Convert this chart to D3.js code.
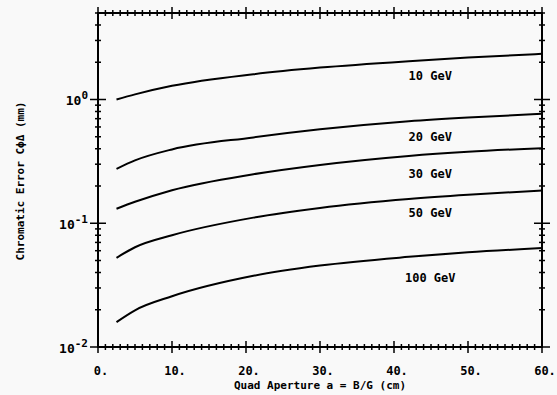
<!DOCTYPE html>
<html><head><meta charset="utf-8">
<script src="https://cdn.jsdelivr.net/npm/d3@7"></script>
<style>
html,body{margin:0;padding:0;background:#f9f9f9;}
svg{display:block;}
text{font-family:"DejaVu Sans Mono",monospace;font-weight:bold;fill:#000;}
</style></head>
<body>
<script>
const aperture = [2.5, 5, 10, 21, 30, 42, 50, 60];
const series = [
  {name: "10 GeV",  values: [1.0, 1.10, 1.29, 1.60, 1.81, 2.04, 2.18, 2.34]},
  {name: "20 GeV",  values: [0.275, 0.322, 0.395, 0.494, 0.574, 0.668, 0.716, 0.766]},
  {name: "30 GeV",  values: [0.131, 0.149, 0.185, 0.249, 0.296, 0.350, 0.378, 0.404]},
  {name: "50 GeV",  values: [0.0526, 0.064, 0.080, 0.111, 0.133, 0.157, 0.170, 0.184]},
  {name: "100 GeV", values: [0.0159, 0.0198, 0.0257, 0.0376, 0.0455, 0.0535, 0.0582, 0.063]}
];
const labelPos = [ [44.9, 1.45], [44.9, 0.458], [44.9, 0.230], [44.9, 0.113], [44.9, 0.0338] ];
const xTicks = [0, 10, 20, 30, 40, 50, 60];
const xTickLabels = ["0.", "10.", "20.", "30.", "40.", "50.", "60."];
const yDecades = [0.01, 0.1, 1];
const yDecadeExp = ["-2", "-1", "0"];
const xTitle = "Quad Aperture a = B/G (cm)";
const yTitle = "Chromatic Error C\u03d5\u0394 (mm)";

const W = 557, H = 395;
const m = {l: 98, r: 15, t: 13, b: 48};
const svg = d3.select("body").append("svg").attr("width", W).attr("height", H);
const x = d3.scaleLinear().domain([0, 60]).range([m.l, W - m.r]);
const y = d3.scaleLog().domain([0.01, 5]).range([H - m.b, m.t]);

const xMinor = d3.range(0, 61, 1).filter(v => v % 10 !== 0);
const yMinor = [];
[0.01, 0.1, 1].forEach(d => { for (let k = 2; k <= 9; k++) { const v = d * k; if (v <= 5.0001) yMinor.push(v); } });

const g = svg.append("g").attr("stroke", "#000").attr("fill", "none");
g.append("rect").attr("x", x(0)).attr("y", y(5)).attr("width", x(60) - x(0)).attr("height", y(0.01) - y(5)).attr("stroke-width", 2);

function xTick(v, len, yy) {
  g.append("line").attr("x1", x(v)).attr("x2", x(v)).attr("y1", yy - len).attr("y2", yy + len).attr("stroke-width", 1.5);
}
function yTick(v, len, xx) {
  g.append("line").attr("y1", y(v)).attr("y2", y(v)).attr("x1", xx - len).attr("x2", xx + len).attr("stroke-width", 1.5);
}
[y(0.01), y(5)].forEach(yy => {
  xMinor.forEach(v => xTick(v, 3, yy));
  xTicks.forEach(v => xTick(v, 6, yy));
});
[x(0), x(60)].forEach(xx => {
  yMinor.forEach(v => yTick(v, 3, xx));
  yDecades.forEach(v => yTick(v, 8, xx));
});

svg.append("g").selectAll("text").data(xTicks).join("text")
  .attr("x", d => x(d) + 3).attr("y", y(0.01) + 28)
  .attr("text-anchor", "middle").attr("font-size", 12)
  .text((d, i) => xTickLabels[i]);

const yl = svg.append("g").selectAll("text").data(yDecades).join("text")
  .attr("x", m.l - 10).attr("y", d => y(d) + 6)
  .attr("text-anchor", "end").attr("font-size", 13);
yl.append("tspan").text("10");
yl.append("tspan").attr("dy", -6).attr("font-size", 11).text((d, i) => yDecadeExp[i]);

svg.append("text").attr("x", (x(0) + x(60)) / 2).attr("y", H - 6)
  .attr("text-anchor", "middle").attr("font-size", 11).text(xTitle);
svg.append("text").attr("transform", `translate(24,181) rotate(-90)`)
  .attr("text-anchor", "middle").attr("font-size", 11).text(yTitle);

const line = d3.line().x((d, i) => x(aperture[i])).y(d => y(d)).curve(d3.curveMonotoneX);
svg.append("g").selectAll("path").data(series).join("path")
  .attr("d", s => line(s.values)).attr("fill", "none").attr("stroke", "#000").attr("stroke-width", 2);

svg.append("g").selectAll("text").data(series).join("text")
  .attr("x", (d, i) => x(labelPos[i][0])).attr("y", (d, i) => y(labelPos[i][1]))
  .attr("text-anchor", "middle").attr("font-size", 12).text(d => d.name);
</script>
</body></html>
